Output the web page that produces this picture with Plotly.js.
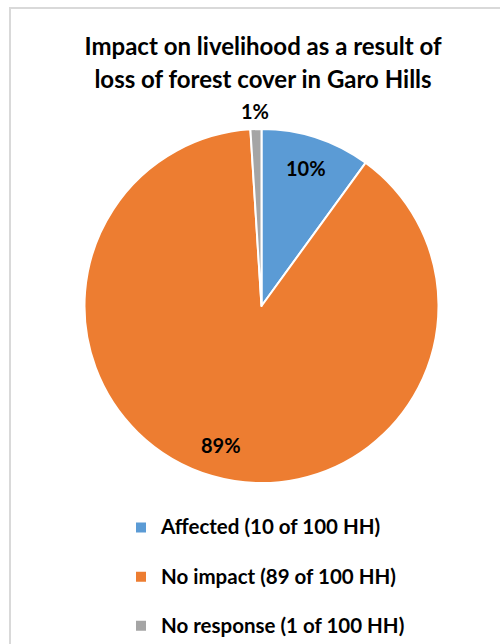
<!DOCTYPE html>
<html>
<head>
<meta charset="utf-8">
<script src="https://cdn.plot.ly/plotly-3.0.1.min.js"></script>
<style>
  html, body { margin: 0; padding: 0; background: #ffffff; overflow: hidden; }
  #wrap { position: relative; width: 500px; height: 644px; }
  #chart { position: absolute; left: 0; top: 0; width: 500px; height: 644px; }
  #frame {
    position: absolute; left: 9px; top: 7px; width: 700px; height: 800px;
    border: 2px solid #d9d9d9; pointer-events: none;
  }
</style>
</head>
<body>
<div id="wrap">
  <div id="chart"></div>
  <div id="frame"></div>
</div>
<script>
// Household responses (out of 100 HH)
const categories = ['Affected', 'No impact', 'No response'];
const households = [10, 89, 1];
const totalHH = 100;
const sliceColors = ['#5B9BD5', '#ED7D31', '#A5A5A5'];

const W = 500, H = 644;
const FONT = 'Lato, "Open Sans", sans-serif';

// A trailing blank line gives each legend entry extra vertical room
const legendLabels = categories.map((c, i) =>
  '<span style="font-size:20.5px"><b>' + c + ' (' + households[i] + ' of ' + totalHH +
  ' HH)</b></span><br> ');

const domainX = [0.169, 0.877];
const domainY = [0.25, 0.7997];

const trace = {
  type: 'pie',
  labels: legendLabels,
  values: households,
  sort: false,
  direction: 'clockwise',
  rotation: 0,
  marker: { colors: sliceColors, line: { color: '#ffffff', width: 2 } },
  textinfo: 'none',
  hoverinfo: 'label+percent',
  domain: { x: domainX, y: domainY },
  showlegend: true
};

// Percentage labels placed along each slice's bisector
const sum = households.reduce((a, b) => a + b, 0);
const cxPx = (domainX[0] + domainX[1]) / 2 * W;
const cyPx = (1 - (domainY[0] + domainY[1]) / 2) * H;
const R = Math.min((domainX[1] - domainX[0]) * W, (domainY[1] - domainY[0]) * H) / 2;
let cum = 0;
const annotations = households.map((v, i) => {
  const mid = (cum + v / 2) / sum * 2 * Math.PI;
  cum += v;
  const frac = v / sum;
  const rf = frac < 0.05 ? 1.1 : 0.82;
  const px = cxPx + rf * R * Math.sin(mid);
  const py = cyPx - rf * R * Math.cos(mid);
  return {
    x: px / W, y: 1 - py / H, xref: 'paper', yref: 'paper',
    xanchor: 'center', yanchor: 'middle', showarrow: false,
    text: '<b>' + Math.round(frac * 100) + '%</b>',
    font: { family: FONT, size: 20, color: '#000000' }
  };
});

const layout = {
  width: W, height: H,
  margin: { l: 0, r: 0, t: 0, b: 0, autoexpand: false },
  paper_bgcolor: '#ffffff',
  title: {
    text: '<span style="font-size:24px"><b>Impact on livelihood as a result of</b></span><br>' +
          '<span style="font-size:24px"><b>loss of forest cover in Garo Hills</b></span>',
    x: 0.526, xanchor: 'center', xref: 'paper',
    y: 0.915, yanchor: 'top', yref: 'container',
    font: { family: FONT, size: 25.2, color: '#000000' }
  },
  legend: {
    x: 0.242, xanchor: 'left', y: 0.209, yanchor: 'top',
    orientation: 'v', valign: 'top',
    font: { family: FONT, size: 17.77, color: '#000000' },
    bgcolor: 'rgba(0,0,0,0)'
  },
  annotations: annotations
};

Plotly.newPlot('chart', [trace], layout, { displayModeBar: false, staticPlot: true });
</script>
</body>
</html>
